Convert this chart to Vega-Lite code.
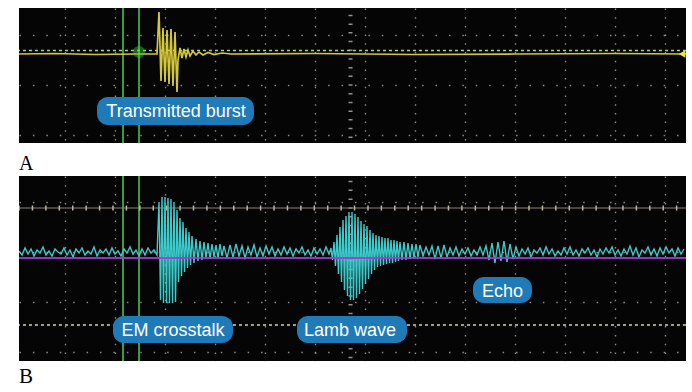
{
"$schema": "https://vega.github.io/schema/vega-lite/v6.json",
"background": "#ffffff",
"padding": {"left": 19, "top": 8, "right": 6, "bottom": 0},
"spacing": 2,
"config": {
  "view": {"fill": "#050505", "stroke": null},
  "axis": {"labels": false, "ticks": false, "domain": false, "title": null, "grid": true, "gridColor": "#a0a0a0", "gridWidth": 1.4, "gridOpacity": 0.85, "minExtent": 0, "maxExtent": 0, "offset": 0},
  "title": {"font": "Liberation Serif", "fontWeight": "normal", "color": "#000000", "anchor": "start", "orient": "bottom"}
},
"datasets": {
  "sigA": [
    {"t":4,"v":31},{"t":40,"v":31.5},{"t":80,"v":30.5},{"t":120,"v":31},{"t":142,"v":31},
    {"t":144,"v":73},{"t":146,"v":4},{"t":148,"v":57},{"t":150,"v":3},{"t":152,"v":55},{"t":154,"v":1},{"t":156,"v":56},{"t":158,"v":-1},{"t":160,"v":53},{"t":162,"v":-7},
    {"t":163,"v":25},{"t":165,"v":37},{"t":167,"v":27},{"t":169,"v":36},{"t":171,"v":28},{"t":173,"v":35},{"t":175,"v":29},{"t":178,"v":34},{"t":181,"v":30},{"t":184,"v":33},{"t":188,"v":30},{"t":193,"v":32.5},{"t":199,"v":30.5},{"t":207,"v":32},{"t":216,"v":31},{"t":300,"v":31.5},{"t":400,"v":30.5},{"t":500,"v":31},{"t":600,"v":31.5},{"t":671,"v":31}
  ],
  "sigB": [
    {"t":4,"v":1},{"t":7,"v":-3},{"t":10,"v":4},{"t":13,"v":-2},{"t":16,"v":3},{"t":19,"v":-4},{"t":22,"v":2},{"t":25,"v":-1},{"t":28,"v":5},{"t":31,"v":-3},
    {"t":34,"v":1},{"t":37,"v":-4},{"t":40,"v":3},{"t":43,"v":0},{"t":46,"v":-2},{"t":49,"v":4},{"t":52,"v":-3},{"t":55,"v":2},{"t":58,"v":-5},{"t":61,"v":3},
    {"t":64,"v":-1},{"t":67,"v":4},{"t":70,"v":-3},{"t":73,"v":1},{"t":76,"v":-2},{"t":79,"v":5},{"t":82,"v":-4},{"t":85,"v":2},{"t":88,"v":-1},{"t":91,"v":3},
    {"t":94,"v":-3},{"t":97,"v":4},{"t":100,"v":-2},{"t":103,"v":1},{"t":106,"v":-4},{"t":109,"v":3},{"t":112,"v":-1},{"t":115,"v":5},{"t":118,"v":-2},{"t":121,"v":2},
    {"t":124,"v":-4},{"t":127,"v":3},{"t":130,"v":-3},{"t":133,"v":4},{"t":136,"v":-1},{"t":139,"v":2},{"t":142,"v":-3},
    {"t":144,"v":50},{"t":145.5,"v":-48},{"t":147,"v":55},{"t":148.5,"v":-51},{"t":150,"v":55},{"t":151.5,"v":-51},{"t":153,"v":54},{"t":154.5,"v":-51},{"t":156,"v":53},{"t":157.5,"v":-51},
    {"t":159,"v":50},{"t":160.5,"v":-50},{"t":162,"v":42},{"t":163.5,"v":-30},{"t":165,"v":34},{"t":166.5,"v":-24},{"t":168,"v":30},{"t":169.5,"v":-20},{"t":171,"v":24},{"t":172.5,"v":-16},
    {"t":174,"v":20},{"t":175.5,"v":-13},{"t":177,"v":16},{"t":179,"v":-11},{"t":181,"v":13},{"t":183,"v":-9},{"t":185,"v":11},{"t":187,"v":-8},{"t":189,"v":10},{"t":191,"v":-6},
    {"t":193,"v":9},{"t":195,"v":-7},{"t":197,"v":8},{"t":199,"v":-5},{"t":201,"v":7},{"t":203,"v":-6},{"t":205,"v":8},{"t":207,"v":-4},{"t":209,"v":6},
    {"t":212,"v":-6},{"t":215,"v":7},{"t":218,"v":-5},{"t":221,"v":8},{"t":224,"v":-4},{"t":227,"v":6},{"t":230,"v":-6},{"t":233,"v":5},{"t":236,"v":-3},{"t":239,"v":7},
    {"t":242,"v":-5},{"t":245,"v":4},{"t":248,"v":-4},{"t":251,"v":6},{"t":254,"v":-2},{"t":257,"v":5},{"t":260,"v":-4},{"t":263,"v":3},{"t":266,"v":-3},{"t":269,"v":5},
    {"t":272,"v":-2},{"t":275,"v":4},{"t":278,"v":-4},{"t":281,"v":3},{"t":284,"v":-1},{"t":287,"v":5},{"t":290,"v":-3},{"t":293,"v":2},{"t":296,"v":-4},{"t":299,"v":4},
    {"t":302,"v":-2},{"t":305,"v":3},{"t":308,"v":-3},{"t":311,"v":5},{"t":314,"v":-2},
    {"t":316,"v":4},{"t":317.5,"v":-8},{"t":319,"v":10},{"t":320.5,"v":-14},{"t":322,"v":17},{"t":323.5,"v":-22},{"t":325,"v":25},{"t":326.5,"v":-30},{"t":328,"v":32},{"t":329.5,"v":-38},
    {"t":331,"v":36},{"t":332.5,"v":-44},{"t":334,"v":40},{"t":335.5,"v":-48},{"t":337,"v":40},{"t":338.5,"v":-48},{"t":340,"v":38},{"t":341.5,"v":-46},{"t":343,"v":35},{"t":344.5,"v":-42},
    {"t":346,"v":31},{"t":347.5,"v":-37},{"t":349,"v":28},{"t":350.5,"v":-32},{"t":352,"v":26},{"t":353.5,"v":-27},{"t":355,"v":22},{"t":356.5,"v":-22},{"t":358,"v":19},{"t":359.5,"v":-18},
    {"t":361,"v":17},{"t":362.5,"v":-15},{"t":364,"v":16},{"t":365.5,"v":-14},{"t":367,"v":15},{"t":368.5,"v":-13},{"t":370,"v":14},{"t":371.5,"v":-12},{"t":373,"v":14},{"t":374.5,"v":-11},
    {"t":376,"v":12},{"t":377.5,"v":-11},{"t":379,"v":12},{"t":380.5,"v":-10},{"t":382,"v":11},{"t":383.5,"v":-9},{"t":385,"v":10},{"t":387,"v":-8},{"t":389,"v":10},{"t":391,"v":-8},
    {"t":393,"v":9},{"t":395,"v":-7},{"t":397,"v":8},{"t":399,"v":-6},{"t":401,"v":8},{"t":403,"v":-5},{"t":405,"v":7},
    {"t":408,"v":-4},{"t":411,"v":5},{"t":414,"v":-3},{"t":417,"v":6},{"t":420,"v":-7},{"t":423,"v":6},{"t":426,"v":-6},{"t":429,"v":7},{"t":432,"v":-5},
    {"t":435,"v":4},{"t":438,"v":-3},{"t":441,"v":5},{"t":444,"v":-4},{"t":447,"v":3},{"t":450,"v":-2},{"t":453,"v":4},{"t":456,"v":-4},{"t":459,"v":2},{"t":462,"v":-3},{"t":465,"v":5},{"t":468,"v":-3},
    {"t":471,"v":6},{"t":474,"v":-8},{"t":477,"v":9},{"t":480,"v":-11},{"t":483,"v":10},{"t":486,"v":-9},{"t":489,"v":11},{"t":492,"v":-10},{"t":495,"v":8},{"t":498,"v":-7},
    {"t":501,"v":5},{"t":504,"v":-4},{"t":507,"v":3},{"t":510,"v":-2},{"t":513,"v":4},{"t":516,"v":-5},{"t":519,"v":2},{"t":522,"v":-1},{"t":525,"v":4},{"t":528,"v":-3},
    {"t":531,"v":5},{"t":534,"v":-2},{"t":537,"v":3},{"t":540,"v":-4},{"t":543,"v":1},{"t":546,"v":-3},{"t":549,"v":4},{"t":552,"v":-2},{"t":555,"v":5},{"t":558,"v":-3},
    {"t":561,"v":2},{"t":564,"v":-4},{"t":567,"v":3},{"t":570,"v":-1},{"t":573,"v":4},{"t":576,"v":-3},{"t":579,"v":2},{"t":582,"v":-5},{"t":585,"v":3},{"t":588,"v":-2},
    {"t":591,"v":4},{"t":594,"v":-1},{"t":597,"v":5},{"t":600,"v":-3},{"t":603,"v":2},{"t":606,"v":-4},{"t":609,"v":3},{"t":612,"v":-2},{"t":615,"v":6},{"t":618,"v":-3},
    {"t":621,"v":4},{"t":624,"v":-5},{"t":627,"v":2},{"t":630,"v":-1},{"t":633,"v":5},{"t":636,"v":-3},{"t":639,"v":3},{"t":642,"v":-4},{"t":645,"v":4},{"t":648,"v":-2},
    {"t":651,"v":5},{"t":654,"v":-1},{"t":657,"v":3},{"t":660,"v":-4},{"t":663,"v":4},{"t":666,"v":-2},{"t":669,"v":3}
  ]
},
"vconcat": [
  {
    "width": 667, "height": 135,
    "title": {"text": "A", "fontSize": 20, "offset": 11},
    "layer": [
      {
        "data": {"values": [{"t": 108}, {"t": 124}]},
        "mark": {"type": "rule", "color": "#3d9a3d", "strokeWidth": 2, "clip": true},
        "encoding": {"x": {"field": "t", "type": "quantitative", "scale": {"domain": [4, 671], "nice": false, "zero": false},
          "axis": {"tickValues": [67.1, 134.2, 201.3, 268.4, 335.5, 402.6, 469.7, 536.8, 603.9, 671], "gridDash": [1.5, 7.2]}}}
      },
      {
        "data": {"values": [{"t": 335.5}]},
        "mark": {"type": "rule", "color": "#a8a8a8", "strokeWidth": 4, "opacity": 0.85, "strokeDash": [1.5, 7.2], "strokeDashOffset": 2, "clip": true},
        "encoding": {"x": {"field": "t", "type": "quantitative"}}
      },
      {
        "data": {"values": [{}]},
        "mark": {"type": "rule", "color": "#9ed870", "strokeWidth": 1.5, "strokeDash": [3, 3], "clip": true},
        "encoding": {"y": {"datum": 34.5, "type": "quantitative", "scale": {"domain": [-58, 77], "nice": false, "zero": false},
          "axis": {"tickValues": [43.5, 0, -43.5], "gridDash": [1.5, 11.92]}}}
      },
      {
        "data": {"name": "sigA"},
        "mark": {"type": "line", "color": "#d4c83a", "strokeWidth": 1.7, "clip": true},
        "encoding": {"x": {"field": "t", "type": "quantitative"}, "y": {"field": "v", "type": "quantitative"}}
      },
      {
        "data": {"values": [{"t": 124, "v": 33}]},
        "mark": {"type": "point", "shape": "circle", "size": 110, "color": "#3ccf3c", "filled": true, "opacity": 0.45, "stroke": "#3ccf3c", "strokeWidth": 1.5, "clip": true},
        "encoding": {"x": {"field": "t", "type": "quantitative"}, "y": {"field": "v", "type": "quantitative"}}
      },
      {
        "data": {"values": [{"t": 667, "v": 31}]},
        "mark": {"type": "point", "shape": "triangle-left", "size": 60, "filled": true, "color": "#ece44a", "opacity": 1, "clip": true},
        "encoding": {"x": {"field": "t", "type": "quantitative"}, "y": {"field": "v", "type": "quantitative"}}
      },
      {
        "data": {"values": [{"label": "Transmitted burst", "x1": 82, "x2": 239, "y1": -12, "y2": -40, "tx": 161, "ty": -27}]},
        "layer": [
          {"mark": {"type": "rect", "fill": "#1f7ab8", "cornerRadius": 11, "clip": true},
           "encoding": {"x": {"field": "x1", "type": "quantitative"}, "x2": {"field": "x2"}, "y": {"field": "y1", "type": "quantitative"}, "y2": {"field": "y2"}}},
          {"mark": {"type": "text", "font": "Liberation Sans", "fontSize": 18, "color": "#ffffff", "baseline": "middle", "align": "center", "clip": true},
           "encoding": {"x": {"field": "tx", "type": "quantitative"}, "y": {"field": "ty", "type": "quantitative"}, "text": {"field": "label"}}}
        ]
      }
    ]
  },
  {
    "width": 667, "height": 185,
    "title": {"text": "B", "fontSize": 21, "offset": 5},
    "layer": [
      {
        "data": {"values": [{"t": 108}, {"t": 124}]},
        "mark": {"type": "rule", "color": "#3d9a3d", "strokeWidth": 2, "clip": true},
        "encoding": {"x": {"field": "t", "type": "quantitative", "scale": {"domain": [4, 671], "nice": false, "zero": false},
          "axis": {"tickValues": [67.1, 134.2, 201.3, 268.4, 335.5, 402.6, 469.7, 536.8, 603.9, 671], "gridDash": [1.5, 7.3]}}}
      },
      {
        "data": {"values": [{"t": 335.5}]},
        "mark": {"type": "rule", "color": "#a8a8a8", "strokeWidth": 4, "opacity": 0.85, "strokeDash": [1.5, 7.3], "strokeDashOffset": 4, "clip": true},
        "encoding": {"x": {"field": "t", "type": "quantitative"}}
      },
      {
        "data": {"values": [{}]},
        "mark": {"type": "rule", "color": "#8a8478", "strokeWidth": 1, "clip": true},
        "encoding": {"y": {"datum": 44, "type": "quantitative", "scale": {"domain": [-109, 76], "nice": false, "zero": false},
          "axis": {"tickValues": [44, 0, -44, -88], "gridDash": [1.5, 11.92]}}}
      },
      {
        "data": {"values": [{}]},
        "mark": {"type": "rule", "color": "#bdb6a4", "strokeWidth": 5, "strokeDash": [1.5, 11.92], "strokeDashOffset": 4.8, "clip": true},
        "encoding": {"y": {"datum": 44, "type": "quantitative"}}
      },
      {
        "data": {"values": [{}]},
        "mark": {"type": "rule", "color": "#d2d49a", "strokeWidth": 1.3, "strokeDash": [3, 3], "clip": true},
        "encoding": {"y": {"datum": -73, "type": "quantitative"}}
      },
      {
        "data": {"name": "sigB"},
        "mark": {"type": "line", "color": "#3ccaca", "strokeWidth": 1.4, "clip": true},
        "encoding": {"x": {"field": "t", "type": "quantitative"}, "y": {"field": "v", "type": "quantitative"}}
      },
      {
        "data": {"values": [{}]},
        "mark": {"type": "rule", "color": "#a03cdc", "strokeWidth": 2, "opacity": 0.9, "clip": true},
        "encoding": {"y": {"datum": -6, "type": "quantitative"}}
      },
      {
        "data": {"values": [
          {"label": "EM crosstalk", "x1": 98, "x2": 218, "y1": -64, "y2": -91, "tx": 158, "ty": -79},
          {"label": "Lamb wave", "x1": 282, "x2": 392, "y1": -64, "y2": -91, "tx": 335, "ty": -79},
          {"label": "Echo", "x1": 458, "x2": 517, "y1": -25, "y2": -51, "tx": 487.5, "ty": -40}
        ]},
        "layer": [
          {"mark": {"type": "rect", "fill": "#1f7ab8", "cornerRadius": 11, "clip": true},
           "encoding": {"x": {"field": "x1", "type": "quantitative"}, "x2": {"field": "x2"}, "y": {"field": "y1", "type": "quantitative"}, "y2": {"field": "y2"}}},
          {"mark": {"type": "text", "font": "Liberation Sans", "fontSize": 18, "color": "#ffffff", "baseline": "middle", "align": "center", "clip": true},
           "encoding": {"x": {"field": "tx", "type": "quantitative"}, "y": {"field": "ty", "type": "quantitative"}, "text": {"field": "label"}}}
        ]
      }
    ]
  }
]
}
